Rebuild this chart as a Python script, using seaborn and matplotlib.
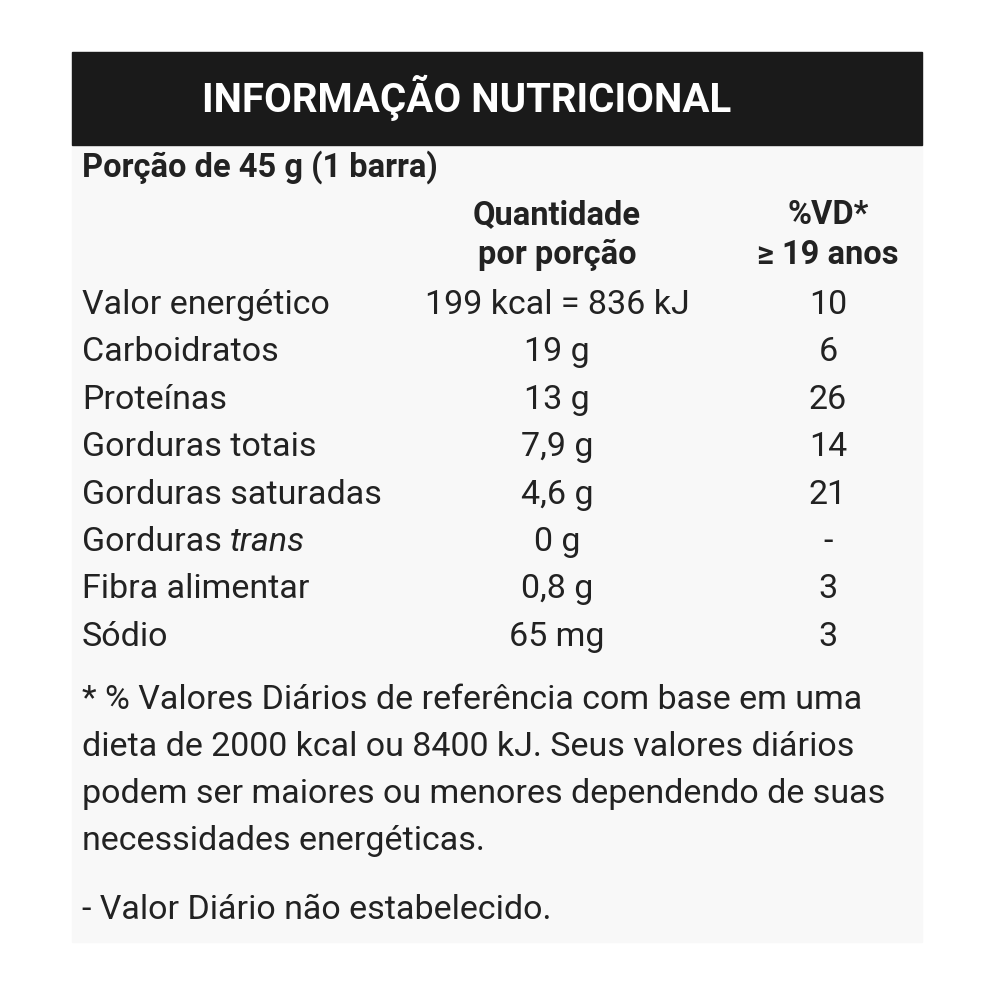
import matplotlib.pyplot as plt
import seaborn as sns

sns.set_theme(style="white")
plt.rcParams['font.family'] = ['Roboto', 'DejaVu Sans']

title = "INFORMAÇÃO NUTRICIONAL"
portion = "Porção de 45 g (1 barra)"
col_heads = [["Quantidade", "por porção"], ["%VD*", "≥ 19 anos"]]
nutrients = ["Valor energético", "Carboidratos", "Proteínas", "Gorduras totais",
             "Gorduras saturadas", "Gorduras trans", "Fibra alimentar", "Sódio"]
amounts = ["199 kcal = 836 kJ", "19 g", "13 g", "7,9 g", "4,6 g", "0 g", "0,8 g", "65 mg"]
vd = ["10", "6", "26", "14", "21", "-", "3", "3"]
footnote = ["* % Valores Diários de referência com base em uma",
            "dieta de 2000 kcal ou 8400 kJ. Seus valores diários",
            "podem ser maiores ou menores dependendo de suas",
            "necessidades energéticas."]
last_note = "- Valor Diário não estabelecido."

fig = plt.figure(figsize=(10, 10), dpi=100)
ax = fig.add_axes([0, 0, 1, 1])
ax.set_xlim(0, 1000)
ax.set_ylim(1000, 0)
ax.axis("off")

ax.add_patch(plt.Rectangle((72, 52), 850, 890, color="#f8f8f8", zorder=0))
ax.add_patch(plt.Rectangle((72, 52), 850, 93, color="#1a1a1a", zorder=1))
ax.text(467, 98, title, color="white", fontsize=29, fontweight="bold",
        ha="center", va="center", zorder=2)

fs = 24.5
col = "#222222"
ax.text(82, 167, portion, fontsize=fs - 1, fontweight="bold", ha="left", va="center", color=col)
for cx, lines in zip([557, 828], col_heads):
    for i, s in enumerate(lines):
        ax.text(cx, 215 + 40 * i, s, fontsize=fs - 1, fontweight="bold", ha="center", va="center", color=col)

for i, (n, a, v) in enumerate(zip(nutrients, amounts, vd)):
    y = 305 + 47.4 * i
    if n.endswith("trans"):
        t = ax.text(82, y, "Gorduras ", fontsize=fs, ha="left", va="center", color=col)
        ax.annotate("trans", xycoords=t, xy=(1, 0.5), va="center", ha="left",
                    fontsize=fs, fontstyle="italic", color=col)
    else:
        ax.text(82, y, n, fontsize=fs, ha="left", va="center", color=col)
    ax.text(557, y, a, fontsize=fs, ha="center", va="center", color=col)
    ax.text(828, y, v, fontsize=fs, ha="center", va="center", color=col)

for i, s in enumerate(footnote):
    ax.text(82, 700 + 47 * i, s, fontsize=fs, ha="left", va="center", color=col)
ax.text(82, 910, last_note, fontsize=fs, ha="left", va="center", color=col)

fig.savefig("out.png", dpi=100, facecolor="white")
